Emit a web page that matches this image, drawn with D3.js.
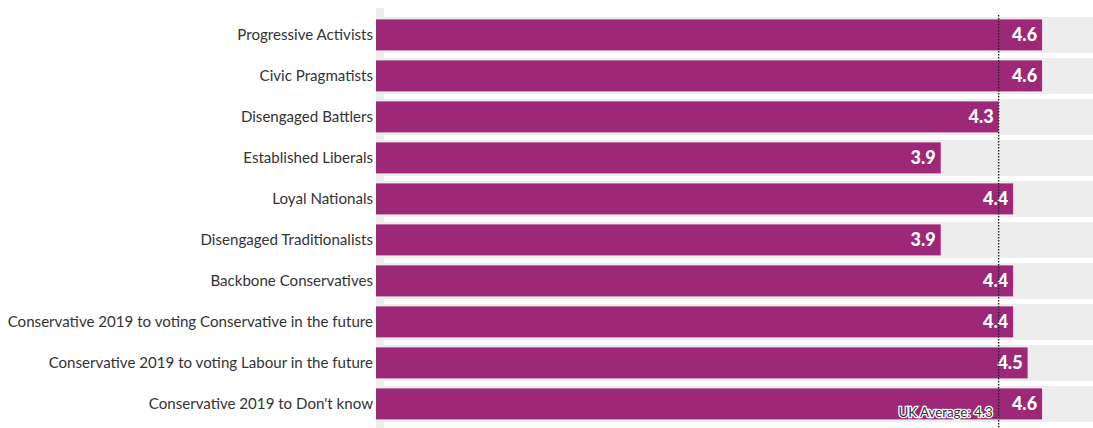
<!DOCTYPE html>
<html><head><meta charset="utf-8">
<script src="https://cdn.jsdelivr.net/npm/d3@7"></script>
<style>
html,body{margin:0;padding:0;background:#fff;}
svg{display:block;}
</style>
</head><body>
<svg id="chart" width="1093" height="428"></svg>
<script>
const categories = [
  "Progressive Activists",
  "Civic Pragmatists",
  "Disengaged Battlers",
  "Established Liberals",
  "Loyal Nationals",
  "Disengaged Traditionalists",
  "Backbone Conservatives",
  "Conservative 2019 to voting Conservative in the future",
  "Conservative 2019 to voting Labour in the future",
  "Conservative 2019 to Don't know"
];
const values = [4.6, 4.6, 4.3, 3.9, 4.4, 3.9, 4.4, 4.4, 4.5, 4.6];
const averageValue = 4.3;
const averageLabel = "UK Average: 4.3";
const xDomain = [0, 5];

const svg = d3.select("#chart");
const W = 1093, H = 428;
const left = 376;
const x = d3.scaleLinear().domain(xDomain).range([left, 1100]);
const y = d3.scaleBand().domain(categories).range([17, 422]).paddingInner(5/41).paddingOuter(0);

const font = "Lato, 'Open Sans', sans-serif";

// left grey strip
svg.append("rect").attr("x", left).attr("y", 8).attr("width", 8).attr("height", H - 8).attr("fill", "#ededed");

const rows = svg.append("g").selectAll("g").data(categories).join("g");

rows.append("rect")
  .attr("x", x(xDomain[0])).attr("y", d => y(d))
  .attr("width", x(xDomain[1]) - x(xDomain[0])).attr("height", y.bandwidth())
  .attr("fill", "#ededed");

rows.append("rect")
  .attr("x", x(0)).attr("y", d => y(d) + 2.4)
  .attr("width", (d, i) => x(values[i]) - x(0)).attr("height", y.bandwidth() - 5)
  .attr("fill", "#9d2878");

rows.append("text")
  .attr("x", 373).attr("y", d => y(d) + y.bandwidth() / 2)
  .attr("dy", "0.35em").attr("text-anchor", "end")
  .attr("font-family", font).attr("font-size", 15.1).attr("fill", "#333")
  .text(d => d);

// average line
svg.append("line")
  .attr("x1", x(averageValue)).attr("x2", x(averageValue))
  .attr("y1", 15).attr("y2", H)
  .attr("stroke", "#222").attr("stroke-width", 1.4).attr("stroke-dasharray", "1.5,1.5");

rows.append("text")
  .attr("x", (d, i) => x(values[i]) - 5).attr("y", d => y(d) + y.bandwidth() / 2)
  .attr("dy", "0.36em").attr("text-anchor", "end")
  .attr("font-family", font).attr("font-weight", 900).attr("font-size", 18).attr("fill", "#fff")
  .text((d, i) => values[i].toFixed(1));

svg.append("text")
  .attr("x", x(averageValue) - 6).attr("y", 417)
  .attr("text-anchor", "end")
  .attr("font-family", font).attr("font-size", 13.3).attr("fill", "#333")
  .attr("stroke", "#fff").attr("stroke-width", 2.5).attr("paint-order", "stroke")
  .text(averageLabel);
</script>
</body></html>
